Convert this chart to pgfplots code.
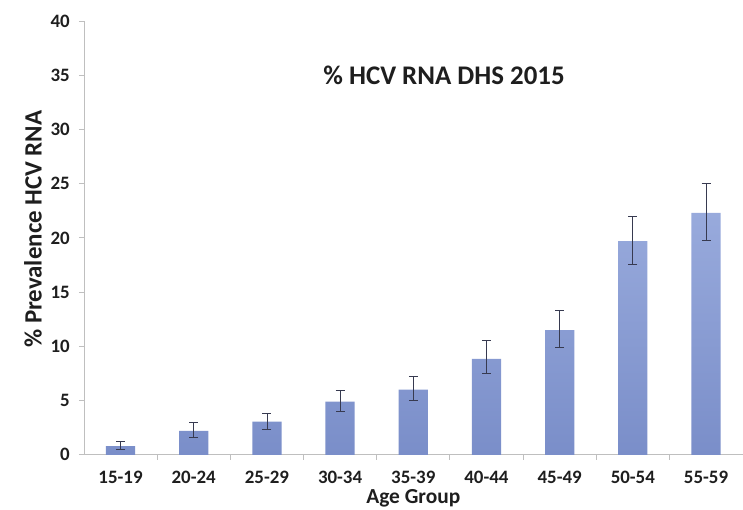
\documentclass[border=0pt]{standalone}
\usepackage{pgfplots}
\pgfplotsset{compat=1.18}
\usepackage{pgfplotstable}
\usetikzlibrary{calc}
\usepackage{fontspec}
\setmainfont{Carlito}
\definecolor{bartop}{RGB}{152,170,220}
\definecolor{barbot}{RGB}{122,142,201}
\definecolor{axgray}{RGB}{191,191,191}
\definecolor{txt}{RGB}{30,30,30}
\definecolor{errc}{RGB}{55,58,80}
\pgfplotstableread{
x y ep em
0 0.8 0.4 0.35
1 2.2 0.75 0.6
2 3.05 0.8 0.75
3 4.9 1.05 0.9
4 6.0 1.2 1.0
5 8.85 1.65 1.35
6 11.5 1.8 1.6
7 19.7 2.3 2.1
8 22.3 2.75 2.5
}\data
\begin{document}
\begin{tikzpicture}
\begin{axis}[name=ax, scale only axis, width=659bp, height=434bp,
  xmin=-0.5, xmax=8.5, ymin=0, ymax=40,
  ytick={0,5,...,40},
  xtick={0,...,8},
  xticklabels={15-19,20-24,25-29,30-34,35-39,40-44,45-49,50-54,55-59},
  minor xtick={0.5,1.5,...,7.5},
  axis y line*=left, axis x line*=bottom,
  axis line style={axgray, line width=0.8pt},
  tick align=outside,
  major tick length=5bp, minor tick length=5bp,
  major x tick style={draw=none},
  minor x tick style={axgray, line width=0.8pt},
  major y tick style={axgray, line width=0.8pt},
  /pgf/number format/assume math mode=true,
  ticklabel style={font=\bfseries\fontsize{19}{22}\selectfont, text=txt},
  xticklabel style={anchor=base, yshift=-24bp, inner sep=0pt},
  yticklabel style={anchor=east, xshift=-9bp, inner sep=0pt},
  xlabel={Age Group}, ylabel={\% Prevalence HCV RNA},
  xlabel style={font=\bfseries\fontsize{21.5}{24}\selectfont, text=txt, inner sep=0pt,
    at={(axis description cs:0.5,0)}, anchor=base, yshift=-48.5bp},
  ylabel style={font=\bfseries\fontsize{25}{28}\selectfont, text=txt,
    at={(axis description cs:-0.0774,0.52)}, anchor=center},
  clip=false,
]
\addplot[ybar, bar width=0.4, draw=none, top color=bartop, bottom color=barbot] table[x=x, y=y]{\data};
\addplot[draw=none, mark=none, forget plot,
  error bars/.cd, y dir=both, y explicit,
  error bar style={errc, line width=0.8pt},
  error mark options={errc, rotate=90, mark size=4.5bp, line width=0.8pt}]
  table[x=x, y=y, y error plus=ep, y error minus=em]{\data};
\node[font=\bfseries\fontsize{27}{30}\selectfont, text=txt] at (axis cs:4.42,35) {\% HCV RNA DHS 2015};
\end{axis}
\path ($(ax.south west)+(-84bp,-55bp)$) rectangle ($(ax.north east)+(0,21bp)$);
\end{tikzpicture}
\end{document}
